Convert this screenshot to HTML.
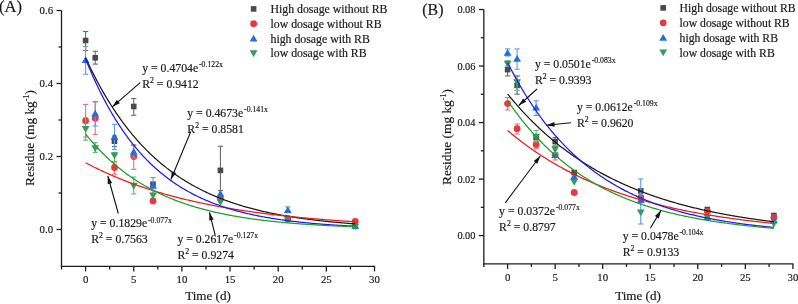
<!DOCTYPE html>
<html><head><meta charset="utf-8"><style>
html,body{margin:0;padding:0;background:#fff;width:798px;height:304px;overflow:hidden}
svg{display:block;will-change:transform}
text{font-family:"Liberation Serif", serif;fill:#1a1a1a;stroke:#1a1a1a;stroke-width:0.18px}
</style></head><body>
<svg width="798" height="304" viewBox="0 0 798 304">
<rect width="798" height="304" fill="#fff"/>
<line x1="61.52" y1="10.50" x2="61.52" y2="267.05" stroke="#1e1e1e" stroke-width="1.3"/>
<line x1="60.87" y1="266.40" x2="375.15" y2="266.40" stroke="#1e1e1e" stroke-width="1.3"/>
<line x1="56.52" y1="229.50" x2="61.52" y2="229.50" stroke="#1e1e1e" stroke-width="1.3"/>
<text x="53.12" y="233.20" font-size="10.8" text-anchor="end" >0.0</text>
<line x1="56.52" y1="156.50" x2="61.52" y2="156.50" stroke="#1e1e1e" stroke-width="1.3"/>
<text x="53.12" y="160.20" font-size="10.8" text-anchor="end" >0.2</text>
<line x1="56.52" y1="83.50" x2="61.52" y2="83.50" stroke="#1e1e1e" stroke-width="1.3"/>
<text x="53.12" y="87.20" font-size="10.8" text-anchor="end" >0.4</text>
<line x1="56.52" y1="10.50" x2="61.52" y2="10.50" stroke="#1e1e1e" stroke-width="1.3"/>
<text x="53.12" y="14.20" font-size="10.8" text-anchor="end" >0.6</text>
<line x1="58.52" y1="193.00" x2="61.52" y2="193.00" stroke="#1e1e1e" stroke-width="1.3"/>
<line x1="58.52" y1="120.00" x2="61.52" y2="120.00" stroke="#1e1e1e" stroke-width="1.3"/>
<line x1="58.52" y1="47.00" x2="61.52" y2="47.00" stroke="#1e1e1e" stroke-width="1.3"/>
<line x1="85.60" y1="266.40" x2="85.60" y2="271.40" stroke="#1e1e1e" stroke-width="1.3"/>
<text x="85.60" y="282.90" font-size="10.8" text-anchor="middle" >0</text>
<line x1="133.75" y1="266.40" x2="133.75" y2="271.40" stroke="#1e1e1e" stroke-width="1.3"/>
<text x="133.75" y="282.90" font-size="10.8" text-anchor="middle" >5</text>
<line x1="181.90" y1="266.40" x2="181.90" y2="271.40" stroke="#1e1e1e" stroke-width="1.3"/>
<text x="181.90" y="282.90" font-size="10.8" text-anchor="middle" >10</text>
<line x1="230.05" y1="266.40" x2="230.05" y2="271.40" stroke="#1e1e1e" stroke-width="1.3"/>
<text x="230.05" y="282.90" font-size="10.8" text-anchor="middle" >15</text>
<line x1="278.20" y1="266.40" x2="278.20" y2="271.40" stroke="#1e1e1e" stroke-width="1.3"/>
<text x="278.20" y="282.90" font-size="10.8" text-anchor="middle" >20</text>
<line x1="326.35" y1="266.40" x2="326.35" y2="271.40" stroke="#1e1e1e" stroke-width="1.3"/>
<text x="326.35" y="282.90" font-size="10.8" text-anchor="middle" >25</text>
<line x1="374.50" y1="266.40" x2="374.50" y2="271.40" stroke="#1e1e1e" stroke-width="1.3"/>
<text x="374.50" y="282.90" font-size="10.8" text-anchor="middle" >30</text>
<line x1="61.52" y1="266.40" x2="61.52" y2="269.40" stroke="#1e1e1e" stroke-width="1.3"/>
<line x1="109.67" y1="266.40" x2="109.67" y2="269.40" stroke="#1e1e1e" stroke-width="1.3"/>
<line x1="157.82" y1="266.40" x2="157.82" y2="269.40" stroke="#1e1e1e" stroke-width="1.3"/>
<line x1="205.98" y1="266.40" x2="205.98" y2="269.40" stroke="#1e1e1e" stroke-width="1.3"/>
<line x1="254.12" y1="266.40" x2="254.12" y2="269.40" stroke="#1e1e1e" stroke-width="1.3"/>
<line x1="302.27" y1="266.40" x2="302.27" y2="269.40" stroke="#1e1e1e" stroke-width="1.3"/>
<line x1="350.43" y1="266.40" x2="350.43" y2="269.40" stroke="#1e1e1e" stroke-width="1.3"/>
<line x1="85.60" y1="31.50" x2="85.60" y2="50.50" stroke="#6a6a6a" stroke-width="1.1"/>
<line x1="83.00" y1="31.50" x2="88.20" y2="31.50" stroke="#6a6a6a" stroke-width="1.1"/>
<line x1="83.00" y1="50.50" x2="88.20" y2="50.50" stroke="#6a6a6a" stroke-width="1.1"/>
<rect x="82.80" y="37.70" width="5.6" height="5.6" fill="#4a4a4a"/>
<line x1="95.23" y1="51.30" x2="95.23" y2="64.10" stroke="#6a6a6a" stroke-width="1.1"/>
<line x1="92.63" y1="51.30" x2="97.83" y2="51.30" stroke="#6a6a6a" stroke-width="1.1"/>
<line x1="92.63" y1="64.10" x2="97.83" y2="64.10" stroke="#6a6a6a" stroke-width="1.1"/>
<rect x="92.43" y="55.00" width="5.6" height="5.6" fill="#4a4a4a"/>
<line x1="114.49" y1="136.00" x2="114.49" y2="146.60" stroke="#6a6a6a" stroke-width="1.1"/>
<line x1="111.89" y1="136.00" x2="117.09" y2="136.00" stroke="#6a6a6a" stroke-width="1.1"/>
<line x1="111.89" y1="146.60" x2="117.09" y2="146.60" stroke="#6a6a6a" stroke-width="1.1"/>
<rect x="111.69" y="138.40" width="5.6" height="5.6" fill="#4a4a4a"/>
<line x1="133.75" y1="98.50" x2="133.75" y2="115.30" stroke="#6a6a6a" stroke-width="1.1"/>
<line x1="131.15" y1="98.50" x2="136.35" y2="98.50" stroke="#6a6a6a" stroke-width="1.1"/>
<line x1="131.15" y1="115.30" x2="136.35" y2="115.30" stroke="#6a6a6a" stroke-width="1.1"/>
<rect x="130.95" y="103.70" width="5.6" height="5.6" fill="#4a4a4a"/>
<rect x="150.21" y="181.40" width="5.6" height="5.6" fill="#4a4a4a"/>
<line x1="220.42" y1="146.20" x2="220.42" y2="190.60" stroke="#6a6a6a" stroke-width="1.1"/>
<line x1="217.82" y1="146.20" x2="223.02" y2="146.20" stroke="#6a6a6a" stroke-width="1.1"/>
<line x1="217.82" y1="190.60" x2="223.02" y2="190.60" stroke="#6a6a6a" stroke-width="1.1"/>
<rect x="217.62" y="167.60" width="5.6" height="5.6" fill="#4a4a4a"/>
<rect x="285.03" y="215.70" width="5.6" height="5.6" fill="#4a4a4a"/>
<rect x="352.44" y="220.20" width="5.6" height="5.6" fill="#4a4a4a"/>
<line x1="85.60" y1="104.40" x2="85.60" y2="137.00" stroke="#ee7070" stroke-width="1.1"/>
<line x1="83.00" y1="104.40" x2="88.20" y2="104.40" stroke="#ee7070" stroke-width="1.1"/>
<line x1="83.00" y1="137.00" x2="88.20" y2="137.00" stroke="#ee7070" stroke-width="1.1"/>
<circle cx="85.60" cy="120.70" r="3.4" fill="#e8383c"/>
<line x1="95.23" y1="102.00" x2="95.23" y2="134.40" stroke="#ee7070" stroke-width="1.1"/>
<line x1="92.63" y1="102.00" x2="97.83" y2="102.00" stroke="#ee7070" stroke-width="1.1"/>
<line x1="92.63" y1="134.40" x2="97.83" y2="134.40" stroke="#ee7070" stroke-width="1.1"/>
<circle cx="95.23" cy="118.20" r="3.4" fill="#e8383c"/>
<line x1="114.49" y1="162.00" x2="114.49" y2="174.20" stroke="#ee7070" stroke-width="1.1"/>
<line x1="111.89" y1="162.00" x2="117.09" y2="162.00" stroke="#ee7070" stroke-width="1.1"/>
<line x1="111.89" y1="174.20" x2="117.09" y2="174.20" stroke="#ee7070" stroke-width="1.1"/>
<circle cx="114.49" cy="167.50" r="3.4" fill="#e8383c"/>
<line x1="133.75" y1="144.70" x2="133.75" y2="169.30" stroke="#ee7070" stroke-width="1.1"/>
<line x1="131.15" y1="144.70" x2="136.35" y2="144.70" stroke="#ee7070" stroke-width="1.1"/>
<line x1="131.15" y1="169.30" x2="136.35" y2="169.30" stroke="#ee7070" stroke-width="1.1"/>
<circle cx="133.75" cy="156.50" r="3.4" fill="#e8383c"/>
<circle cx="153.01" cy="200.90" r="3.4" fill="#e8383c"/>
<circle cx="220.42" cy="198.50" r="3.4" fill="#e8383c"/>
<circle cx="287.83" cy="219.00" r="3.4" fill="#e8383c"/>
<circle cx="355.24" cy="221.30" r="3.4" fill="#e8383c"/>
<line x1="85.60" y1="46.40" x2="85.60" y2="74.30" stroke="#5a9aee" stroke-width="1.1"/>
<line x1="83.00" y1="46.40" x2="88.20" y2="46.40" stroke="#5a9aee" stroke-width="1.1"/>
<line x1="83.00" y1="74.30" x2="88.20" y2="74.30" stroke="#5a9aee" stroke-width="1.1"/>
<polygon points="85.60,56.26 89.50,63.06 81.70,63.06" fill="#1f6fe0"/>
<line x1="95.23" y1="101.40" x2="95.23" y2="126.00" stroke="#5a9aee" stroke-width="1.1"/>
<line x1="92.63" y1="101.40" x2="97.83" y2="101.40" stroke="#5a9aee" stroke-width="1.1"/>
<line x1="92.63" y1="126.00" x2="97.83" y2="126.00" stroke="#5a9aee" stroke-width="1.1"/>
<polygon points="95.23,109.66 99.13,116.46 91.33,116.46" fill="#1f6fe0"/>
<line x1="114.49" y1="124.30" x2="114.49" y2="149.60" stroke="#5a9aee" stroke-width="1.1"/>
<line x1="111.89" y1="124.30" x2="117.09" y2="124.30" stroke="#5a9aee" stroke-width="1.1"/>
<line x1="111.89" y1="149.60" x2="117.09" y2="149.60" stroke="#5a9aee" stroke-width="1.1"/>
<polygon points="114.49,133.06 118.39,139.86 110.59,139.86" fill="#1f6fe0"/>
<line x1="133.75" y1="145.60" x2="133.75" y2="158.00" stroke="#5a9aee" stroke-width="1.1"/>
<line x1="131.15" y1="145.60" x2="136.35" y2="145.60" stroke="#5a9aee" stroke-width="1.1"/>
<line x1="131.15" y1="158.00" x2="136.35" y2="158.00" stroke="#5a9aee" stroke-width="1.1"/>
<polygon points="133.75,148.06 137.65,154.86 129.85,154.86" fill="#1f6fe0"/>
<line x1="153.01" y1="177.60" x2="153.01" y2="193.40" stroke="#5a9aee" stroke-width="1.1"/>
<line x1="150.41" y1="177.60" x2="155.61" y2="177.60" stroke="#5a9aee" stroke-width="1.1"/>
<line x1="150.41" y1="193.40" x2="155.61" y2="193.40" stroke="#5a9aee" stroke-width="1.1"/>
<polygon points="153.01,182.06 156.91,188.86 149.11,188.86" fill="#1f6fe0"/>
<polygon points="220.42,189.86 224.32,196.66 216.52,196.66" fill="#1f6fe0"/>
<line x1="287.83" y1="206.90" x2="287.83" y2="212.00" stroke="#5a9aee" stroke-width="1.1"/>
<line x1="285.23" y1="206.90" x2="290.43" y2="206.90" stroke="#5a9aee" stroke-width="1.1"/>
<line x1="285.23" y1="212.00" x2="290.43" y2="212.00" stroke="#5a9aee" stroke-width="1.1"/>
<polygon points="287.83,206.26 291.73,213.06 283.93,213.06" fill="#1f6fe0"/>
<polygon points="355.24,222.26 359.14,229.06 351.34,229.06" fill="#1f6fe0"/>
<line x1="85.60" y1="117.80" x2="85.60" y2="140.20" stroke="#5fb880" stroke-width="1.1"/>
<line x1="83.00" y1="117.80" x2="88.20" y2="117.80" stroke="#5fb880" stroke-width="1.1"/>
<line x1="83.00" y1="140.20" x2="88.20" y2="140.20" stroke="#5fb880" stroke-width="1.1"/>
<polygon points="85.60,132.74 89.50,125.94 81.70,125.94" fill="#2e9e5a"/>
<line x1="95.23" y1="142.70" x2="95.23" y2="152.60" stroke="#5fb880" stroke-width="1.1"/>
<line x1="92.63" y1="142.70" x2="97.83" y2="142.70" stroke="#5fb880" stroke-width="1.1"/>
<line x1="92.63" y1="152.60" x2="97.83" y2="152.60" stroke="#5fb880" stroke-width="1.1"/>
<polygon points="95.23,152.14 99.13,145.34 91.33,145.34" fill="#2e9e5a"/>
<line x1="114.49" y1="152.50" x2="114.49" y2="161.40" stroke="#5fb880" stroke-width="1.1"/>
<line x1="111.89" y1="152.50" x2="117.09" y2="152.50" stroke="#5fb880" stroke-width="1.1"/>
<line x1="111.89" y1="161.40" x2="117.09" y2="161.40" stroke="#5fb880" stroke-width="1.1"/>
<polygon points="114.49,159.24 118.39,152.44 110.59,152.44" fill="#2e9e5a"/>
<line x1="133.75" y1="177.00" x2="133.75" y2="193.90" stroke="#5fb880" stroke-width="1.1"/>
<line x1="131.15" y1="177.00" x2="136.35" y2="177.00" stroke="#5fb880" stroke-width="1.1"/>
<line x1="131.15" y1="193.90" x2="136.35" y2="193.90" stroke="#5fb880" stroke-width="1.1"/>
<polygon points="133.75,189.64 137.65,182.84 129.85,182.84" fill="#2e9e5a"/>
<polygon points="153.01,199.34 156.91,192.54 149.11,192.54" fill="#2e9e5a"/>
<polygon points="220.42,206.04 224.32,199.24 216.52,199.24" fill="#2e9e5a"/>
<polygon points="287.83,222.74 291.73,215.94 283.93,215.94" fill="#2e9e5a"/>
<polygon points="355.24,230.54 359.14,223.74 351.34,223.74" fill="#2e9e5a"/>
<polyline points="85.60,57.80 86.56,59.89 87.53,61.94 88.49,63.97 89.45,65.98 90.41,67.96 91.38,69.92 92.34,71.86 93.30,73.77 94.27,75.66 95.23,77.52 96.19,79.37 97.16,81.19 98.12,82.99 99.08,84.76 100.04,86.52 101.01,88.25 101.97,89.96 102.93,91.66 103.90,93.33 104.86,94.98 105.82,96.61 106.79,98.22 107.75,99.81 108.71,101.39 109.67,102.94 110.64,104.47 111.60,105.99 112.56,107.49 113.53,108.97 114.49,110.43 115.45,111.87 116.42,113.30 117.38,114.71 118.34,116.10 119.31,117.47 120.27,118.83 121.23,120.17 122.19,121.50 123.16,122.81 124.12,124.10 125.08,125.38 126.05,126.64 127.01,127.89 127.97,129.12 128.94,130.34 129.90,131.54 130.86,132.73 131.82,133.90 132.79,135.06 133.75,136.21 134.71,137.34 135.68,138.46 136.64,139.56 137.60,140.65 138.56,141.73 139.53,142.79 140.49,143.85 141.45,144.88 142.42,145.91 143.38,146.92 144.34,147.92 145.31,148.91 146.27,149.89 147.23,150.86 148.19,151.81 149.16,152.75 150.12,153.68 151.08,154.60 152.05,155.51 153.01,156.41 153.97,157.29 154.94,158.17 155.90,159.03 156.86,159.89 157.82,160.73 158.79,161.57 159.75,162.39 160.71,163.20 161.68,164.01 162.64,164.80 163.60,165.59 164.57,166.36 165.53,167.13 166.49,167.88 167.45,168.63 168.42,169.37 169.38,170.10 170.34,170.82 171.31,171.53 172.27,172.23 173.23,172.93 174.20,173.61 175.16,174.29 176.12,174.96 177.09,175.62 178.05,176.28 179.01,176.92 179.97,177.56 180.94,178.19 181.90,178.81 182.86,179.42 183.83,180.03 184.79,180.63 185.75,181.22 186.72,181.81 187.68,182.39 188.64,182.96 189.60,183.52 190.57,184.08 191.53,184.63 192.49,185.18 193.46,185.71 194.42,186.24 195.38,186.77 196.34,187.29 197.31,187.80 198.27,188.30 199.23,188.80 200.20,189.30 201.16,189.79 202.12,190.27 203.09,190.74 204.05,191.21 205.01,191.68 205.98,192.14 206.94,192.59 207.90,193.04 208.86,193.48 209.83,193.91 210.79,194.35 211.75,194.77 212.72,195.19 213.68,195.61 214.64,196.02 215.61,196.43 216.57,196.83 217.53,197.22 218.49,197.62 219.46,198.00 220.42,198.38 221.38,198.76 222.35,199.13 223.31,199.50 224.27,199.87 225.24,200.23 226.20,200.58 227.16,200.93 228.12,201.28 229.09,201.62 230.05,201.96 231.01,202.29 231.98,202.62 232.94,202.95 233.90,203.27 234.87,203.59 235.83,203.90 236.79,204.21 237.75,204.52 238.72,204.82 239.68,205.12 240.64,205.42 241.61,205.71 242.57,206.00 243.53,206.28 244.50,206.56 245.46,206.84 246.42,207.12 247.38,207.39 248.35,207.66 249.31,207.92 250.27,208.18 251.24,208.44 252.20,208.70 253.16,208.95 254.12,209.20 255.09,209.44 256.05,209.69 257.01,209.93 257.98,210.16 258.94,210.40 259.90,210.63 260.87,210.86 261.83,211.09 262.79,211.31 263.75,211.53 264.72,211.75 265.68,211.96 266.64,212.18 267.61,212.39 268.57,212.59 269.53,212.80 270.50,213.00 271.46,213.20 272.42,213.40 273.38,213.59 274.35,213.79 275.31,213.98 276.27,214.17 277.24,214.35 278.20,214.53 279.16,214.72 280.13,214.90 281.09,215.07 282.05,215.25 283.01,215.42 283.98,215.59 284.94,215.76 285.90,215.93 286.87,216.09 287.83,216.25 288.79,216.41 289.76,216.57 290.72,216.73 291.68,216.88 292.64,217.04 293.61,217.19 294.57,217.34 295.53,217.49 296.50,217.63 297.46,217.77 298.42,217.92 299.39,218.06 300.35,218.20 301.31,218.33 302.27,218.47 303.24,218.60 304.20,218.73 305.16,218.87 306.13,218.99 307.09,219.12 308.05,219.25 309.02,219.37 309.98,219.49 310.94,219.62 311.90,219.74 312.87,219.85 313.83,219.97 314.79,220.09 315.76,220.20 316.72,220.31 317.68,220.42 318.65,220.54 319.61,220.64 320.57,220.75 321.54,220.86 322.50,220.96 323.46,221.07 324.42,221.17 325.39,221.27 326.35,221.37 327.31,221.47 328.28,221.56 329.24,221.66 330.20,221.76 331.17,221.85 332.13,221.94 333.09,222.03 334.05,222.12 335.02,222.21 335.98,222.30 336.94,222.39 337.91,222.48 338.87,222.56 339.83,222.65 340.80,222.73 341.76,222.81 342.72,222.89 343.68,222.97 344.65,223.05 345.61,223.13 346.57,223.21 347.54,223.28 348.50,223.36 349.46,223.43 350.43,223.51 351.39,223.58 352.35,223.65 353.31,223.72 354.28,223.79 355.24,223.86" fill="none" stroke="#1a1a1a" stroke-width="1.25"/>
<polyline points="85.60,162.74 86.56,163.25 87.53,163.76 88.49,164.27 89.45,164.77 90.41,165.26 91.38,165.76 92.34,166.24 93.30,166.73 94.27,167.21 95.23,167.69 96.19,168.16 97.16,168.63 98.12,169.10 99.08,169.56 100.04,170.02 101.01,170.48 101.97,170.93 102.93,171.38 103.90,171.83 104.86,172.27 105.82,172.71 106.79,173.14 107.75,173.58 108.71,174.01 109.67,174.43 110.64,174.85 111.60,175.27 112.56,175.69 113.53,176.10 114.49,176.51 115.45,176.92 116.42,177.32 117.38,177.72 118.34,178.12 119.31,178.51 120.27,178.90 121.23,179.29 122.19,179.68 123.16,180.06 124.12,180.44 125.08,180.81 126.05,181.19 127.01,181.56 127.97,181.93 128.94,182.29 129.90,182.65 130.86,183.01 131.82,183.37 132.79,183.72 133.75,184.07 134.71,184.42 135.68,184.77 136.64,185.11 137.60,185.45 138.56,185.79 139.53,186.13 140.49,186.46 141.45,186.79 142.42,187.12 143.38,187.44 144.34,187.76 145.31,188.08 146.27,188.40 147.23,188.72 148.19,189.03 149.16,189.34 150.12,189.65 151.08,189.95 152.05,190.26 153.01,190.56 153.97,190.86 154.94,191.15 155.90,191.45 156.86,191.74 157.82,192.03 158.79,192.32 159.75,192.60 160.71,192.88 161.68,193.16 162.64,193.44 163.60,193.72 164.57,193.99 165.53,194.27 166.49,194.54 167.45,194.81 168.42,195.07 169.38,195.34 170.34,195.60 171.31,195.86 172.27,196.12 173.23,196.37 174.20,196.63 175.16,196.88 176.12,197.13 177.09,197.38 178.05,197.62 179.01,197.87 179.97,198.11 180.94,198.35 181.90,198.59 182.86,198.83 183.83,199.06 184.79,199.30 185.75,199.53 186.72,199.76 187.68,199.99 188.64,200.21 189.60,200.44 190.57,200.66 191.53,200.88 192.49,201.10 193.46,201.32 194.42,201.53 195.38,201.75 196.34,201.96 197.31,202.17 198.27,202.38 199.23,202.59 200.20,202.80 201.16,203.00 202.12,203.20 203.09,203.41 204.05,203.61 205.01,203.81 205.98,204.00 206.94,204.20 207.90,204.39 208.86,204.58 209.83,204.78 210.79,204.97 211.75,205.15 212.72,205.34 213.68,205.53 214.64,205.71 215.61,205.89 216.57,206.07 217.53,206.25 218.49,206.43 219.46,206.61 220.42,206.78 221.38,206.96 222.35,207.13 223.31,207.30 224.27,207.47 225.24,207.64 226.20,207.81 227.16,207.98 228.12,208.14 229.09,208.30 230.05,208.47 231.01,208.63 231.98,208.79 232.94,208.95 233.90,209.11 234.87,209.26 235.83,209.42 236.79,209.57 237.75,209.72 238.72,209.88 239.68,210.03 240.64,210.18 241.61,210.32 242.57,210.47 243.53,210.62 244.50,210.76 245.46,210.91 246.42,211.05 247.38,211.19 248.35,211.33 249.31,211.47 250.27,211.61 251.24,211.74 252.20,211.88 253.16,212.02 254.12,212.15 255.09,212.28 256.05,212.42 257.01,212.55 257.98,212.68 258.94,212.81 259.90,212.93 260.87,213.06 261.83,213.19 262.79,213.31 263.75,213.44 264.72,213.56 265.68,213.68 266.64,213.80 267.61,213.92 268.57,214.04 269.53,214.16 270.50,214.28 271.46,214.40 272.42,214.51 273.38,214.63 274.35,214.74 275.31,214.85 276.27,214.97 277.24,215.08 278.20,215.19 279.16,215.30 280.13,215.41 281.09,215.52 282.05,215.62 283.01,215.73 283.98,215.83 284.94,215.94 285.90,216.04 286.87,216.15 287.83,216.25 288.79,216.35 289.76,216.45 290.72,216.55 291.68,216.65 292.64,216.75 293.61,216.85 294.57,216.94 295.53,217.04 296.50,217.14 297.46,217.23 298.42,217.33 299.39,217.42 300.35,217.51 301.31,217.60 302.27,217.69 303.24,217.78 304.20,217.87 305.16,217.96 306.13,218.05 307.09,218.14 308.05,218.23 309.02,218.31 309.98,218.40 310.94,218.48 311.90,218.57 312.87,218.65 313.83,218.74 314.79,218.82 315.76,218.90 316.72,218.98 317.68,219.06 318.65,219.14 319.61,219.22 320.57,219.30 321.54,219.38 322.50,219.46 323.46,219.53 324.42,219.61 325.39,219.69 326.35,219.76 327.31,219.84 328.28,219.91 329.24,219.98 330.20,220.06 331.17,220.13 332.13,220.20 333.09,220.27 334.05,220.34 335.02,220.41 335.98,220.48 336.94,220.55 337.91,220.62 338.87,220.69 339.83,220.76 340.80,220.82 341.76,220.89 342.72,220.96 343.68,221.02 344.65,221.09 345.61,221.15 346.57,221.22 347.54,221.28 348.50,221.34 349.46,221.40 350.43,221.47 351.39,221.53 352.35,221.59 353.31,221.65 354.28,221.71 355.24,221.77" fill="none" stroke="#ee1c1c" stroke-width="1.25"/>
<polyline points="85.60,58.94 86.56,61.32 87.53,63.68 88.49,66.00 89.45,68.29 90.41,70.55 91.38,72.77 92.34,74.97 93.30,77.13 94.27,79.26 95.23,81.37 96.19,83.44 97.16,85.49 98.12,87.50 99.08,89.49 100.04,91.45 101.01,93.38 101.97,95.29 102.93,97.17 103.90,99.02 104.86,100.85 105.82,102.65 106.79,104.43 107.75,106.18 108.71,107.90 109.67,109.61 110.64,111.28 111.60,112.94 112.56,114.57 113.53,116.18 114.49,117.77 115.45,119.33 116.42,120.87 117.38,122.39 118.34,123.89 119.31,125.37 120.27,126.83 121.23,128.27 122.19,129.69 123.16,131.08 124.12,132.46 125.08,133.82 126.05,135.16 127.01,136.48 127.97,137.78 128.94,139.07 129.90,140.33 130.86,141.58 131.82,142.81 132.79,144.03 133.75,145.22 134.71,146.40 135.68,147.57 136.64,148.71 137.60,149.84 138.56,150.96 139.53,152.06 140.49,153.14 141.45,154.21 142.42,155.27 143.38,156.31 144.34,157.33 145.31,158.34 146.27,159.34 147.23,160.32 148.19,161.29 149.16,162.24 150.12,163.19 151.08,164.11 152.05,165.03 153.01,165.93 153.97,166.82 154.94,167.70 155.90,168.56 156.86,169.42 157.82,170.26 158.79,171.09 159.75,171.91 160.71,172.71 161.68,173.51 162.64,174.29 163.60,175.06 164.57,175.83 165.53,176.58 166.49,177.32 167.45,178.05 168.42,178.77 169.38,179.48 170.34,180.18 171.31,180.87 172.27,181.55 173.23,182.22 174.20,182.89 175.16,183.54 176.12,184.18 177.09,184.82 178.05,185.44 179.01,186.06 179.97,186.67 180.94,187.27 181.90,187.86 182.86,188.44 183.83,189.02 184.79,189.58 185.75,190.14 186.72,190.69 187.68,191.24 188.64,191.77 189.60,192.30 190.57,192.82 191.53,193.33 192.49,193.84 193.46,194.34 194.42,194.83 195.38,195.32 196.34,195.80 197.31,196.27 198.27,196.73 199.23,197.19 200.20,197.64 201.16,198.09 202.12,198.53 203.09,198.96 204.05,199.39 205.01,199.81 205.98,200.23 206.94,200.64 207.90,201.04 208.86,201.44 209.83,201.83 210.79,202.22 211.75,202.60 212.72,202.98 213.68,203.35 214.64,203.72 215.61,204.08 216.57,204.43 217.53,204.78 218.49,205.13 219.46,205.47 220.42,205.81 221.38,206.14 222.35,206.47 223.31,206.79 224.27,207.11 225.24,207.42 226.20,207.73 227.16,208.04 228.12,208.34 229.09,208.63 230.05,208.92 231.01,209.21 231.98,209.50 232.94,209.78 233.90,210.05 234.87,210.32 235.83,210.59 236.79,210.86 237.75,211.12 238.72,211.38 239.68,211.63 240.64,211.88 241.61,212.13 242.57,212.37 243.53,212.61 244.50,212.85 245.46,213.08 246.42,213.31 247.38,213.54 248.35,213.76 249.31,213.98 250.27,214.20 251.24,214.41 252.20,214.62 253.16,214.83 254.12,215.04 255.09,215.24 256.05,215.44 257.01,215.64 257.98,215.83 258.94,216.02 259.90,216.21 260.87,216.40 261.83,216.58 262.79,216.76 263.75,216.94 264.72,217.11 265.68,217.29 266.64,217.46 267.61,217.63 268.57,217.79 269.53,217.96 270.50,218.12 271.46,218.28 272.42,218.44 273.38,218.59 274.35,218.74 275.31,218.89 276.27,219.04 277.24,219.19 278.20,219.33 279.16,219.48 280.13,219.62 281.09,219.75 282.05,219.89 283.01,220.03 283.98,220.16 284.94,220.29 285.90,220.42 286.87,220.54 287.83,220.67 288.79,220.79 289.76,220.92 290.72,221.04 291.68,221.15 292.64,221.27 293.61,221.39 294.57,221.50 295.53,221.61 296.50,221.72 297.46,221.83 298.42,221.94 299.39,222.04 300.35,222.15 301.31,222.25 302.27,222.35 303.24,222.45 304.20,222.55 305.16,222.65 306.13,222.75 307.09,222.84 308.05,222.93 309.02,223.03 309.98,223.12 310.94,223.21 311.90,223.29 312.87,223.38 313.83,223.47 314.79,223.55 315.76,223.63 316.72,223.72 317.68,223.80 318.65,223.88 319.61,223.96 320.57,224.03 321.54,224.11 322.50,224.19 323.46,224.26 324.42,224.33 325.39,224.41 326.35,224.48 327.31,224.55 328.28,224.62 329.24,224.68 330.20,224.75 331.17,224.82 332.13,224.88 333.09,224.95 334.05,225.01 335.02,225.08 335.98,225.14 336.94,225.20 337.91,225.26 338.87,225.32 339.83,225.38 340.80,225.43 341.76,225.49 342.72,225.55 343.68,225.60 344.65,225.66 345.61,225.71 346.57,225.76 347.54,225.82 348.50,225.87 349.46,225.92 350.43,225.97 351.39,226.02 352.35,226.07 353.31,226.12 354.28,226.16 355.24,226.21" fill="none" stroke="#1c1cee" stroke-width="1.25"/>
<polyline points="85.60,133.98 86.56,135.18 87.53,136.38 88.49,137.55 89.45,138.71 90.41,139.86 91.38,140.99 92.34,142.10 93.30,143.21 94.27,144.30 95.23,145.37 96.19,146.43 97.16,147.48 98.12,148.52 99.08,149.54 100.04,150.55 101.01,151.54 101.97,152.53 102.93,153.50 103.90,154.46 104.86,155.41 105.82,156.34 106.79,157.26 107.75,158.18 108.71,159.08 109.67,159.96 110.64,160.84 111.60,161.71 112.56,162.56 113.53,163.41 114.49,164.24 115.45,165.07 116.42,165.88 117.38,166.68 118.34,167.47 119.31,168.26 120.27,169.03 121.23,169.79 122.19,170.55 123.16,171.29 124.12,172.03 125.08,172.75 126.05,173.47 127.01,174.17 127.97,174.87 128.94,175.56 129.90,176.24 130.86,176.91 131.82,177.58 132.79,178.23 133.75,178.88 134.71,179.52 135.68,180.15 136.64,180.77 137.60,181.39 138.56,181.99 139.53,182.59 140.49,183.19 141.45,183.77 142.42,184.35 143.38,184.92 144.34,185.48 145.31,186.04 146.27,186.58 147.23,187.13 148.19,187.66 149.16,188.19 150.12,188.71 151.08,189.22 152.05,189.73 153.01,190.23 153.97,190.73 154.94,191.22 155.90,191.70 156.86,192.18 157.82,192.65 158.79,193.12 159.75,193.57 160.71,194.03 161.68,194.48 162.64,194.92 163.60,195.35 164.57,195.79 165.53,196.21 166.49,196.63 167.45,197.05 168.42,197.46 169.38,197.86 170.34,198.26 171.31,198.65 172.27,199.04 173.23,199.43 174.20,199.81 175.16,200.18 176.12,200.55 177.09,200.92 178.05,201.28 179.01,201.63 179.97,201.98 180.94,202.33 181.90,202.67 182.86,203.01 183.83,203.35 184.79,203.68 185.75,204.00 186.72,204.33 187.68,204.64 188.64,204.96 189.60,205.27 190.57,205.57 191.53,205.87 192.49,206.17 193.46,206.47 194.42,206.76 195.38,207.04 196.34,207.33 197.31,207.61 198.27,207.88 199.23,208.16 200.20,208.43 201.16,208.69 202.12,208.95 203.09,209.21 204.05,209.47 205.01,209.72 205.98,209.97 206.94,210.22 207.90,210.46 208.86,210.70 209.83,210.94 210.79,211.17 211.75,211.40 212.72,211.63 213.68,211.86 214.64,212.08 215.61,212.30 216.57,212.52 217.53,212.73 218.49,212.94 219.46,213.15 220.42,213.36 221.38,213.56 222.35,213.76 223.31,213.96 224.27,214.16 225.24,214.35 226.20,214.54 227.16,214.73 228.12,214.92 229.09,215.10 230.05,215.28 231.01,215.46 231.98,215.64 232.94,215.82 233.90,215.99 234.87,216.16 235.83,216.33 236.79,216.49 237.75,216.66 238.72,216.82 239.68,216.98 240.64,217.14 241.61,217.29 242.57,217.45 243.53,217.60 244.50,217.75 245.46,217.90 246.42,218.04 247.38,218.19 248.35,218.33 249.31,218.47 250.27,218.61 251.24,218.75 252.20,218.89 253.16,219.02 254.12,219.15 255.09,219.28 256.05,219.41 257.01,219.54 257.98,219.66 258.94,219.79 259.90,219.91 260.87,220.03 261.83,220.15 262.79,220.27 263.75,220.39 264.72,220.50 265.68,220.61 266.64,220.73 267.61,220.84 268.57,220.95 269.53,221.05 270.50,221.16 271.46,221.27 272.42,221.37 273.38,221.47 274.35,221.57 275.31,221.67 276.27,221.77 277.24,221.87 278.20,221.97 279.16,222.06 280.13,222.16 281.09,222.25 282.05,222.34 283.01,222.43 283.98,222.52 284.94,222.61 285.90,222.69 286.87,222.78 287.83,222.87 288.79,222.95 289.76,223.03 290.72,223.11 291.68,223.19 292.64,223.27 293.61,223.35 294.57,223.43 295.53,223.51 296.50,223.58 297.46,223.66 298.42,223.73 299.39,223.80 300.35,223.87 301.31,223.95 302.27,224.02 303.24,224.09 304.20,224.15 305.16,224.22 306.13,224.29 307.09,224.35 308.05,224.42 309.02,224.48 309.98,224.55 310.94,224.61 311.90,224.67 312.87,224.73 313.83,224.79 314.79,224.85 315.76,224.91 316.72,224.97 317.68,225.02 318.65,225.08 319.61,225.14 320.57,225.19 321.54,225.25 322.50,225.30 323.46,225.35 324.42,225.41 325.39,225.46 326.35,225.51 327.31,225.56 328.28,225.61 329.24,225.66 330.20,225.71 331.17,225.75 332.13,225.80 333.09,225.85 334.05,225.89 335.02,225.94 335.98,225.98 336.94,226.03 337.91,226.07 338.87,226.12 339.83,226.16 340.80,226.20 341.76,226.24 342.72,226.28 343.68,226.32 344.65,226.36 345.61,226.40 346.57,226.44 347.54,226.48 348.50,226.52 349.46,226.56 350.43,226.59 351.39,226.63 352.35,226.67 353.31,226.70 354.28,226.74 355.24,226.77" fill="none" stroke="#1e9e2a" stroke-width="1.25"/>
<text x="142.20" y="71.70" font-size="11.75">y = 0.4704e<tspan font-size="7.76" dx="0.9" dy="-4.8">-0.122x</tspan></text>
<text x="142.20" y="87.70" font-size="11.75">R<tspan font-size="7.76" dy="-5">2</tspan><tspan dy="5"> = 0.9412</tspan></text>
<text x="187.30" y="116.60" font-size="11.75">y = 0.4673e<tspan font-size="7.76" dx="0.9" dy="-4.8">-0.141x</tspan></text>
<text x="187.30" y="132.60" font-size="11.75">R<tspan font-size="7.76" dy="-5">2</tspan><tspan dy="5"> = 0.8581</tspan></text>
<text x="91.20" y="227.30" font-size="11.75">y = 0.1829e<tspan font-size="7.76" dx="0.9" dy="-4.8">-0.077x</tspan></text>
<text x="91.20" y="243.30" font-size="11.75">R<tspan font-size="7.76" dy="-5">2</tspan><tspan dy="5"> = 0.7563</tspan></text>
<text x="177.40" y="243.10" font-size="11.75">y = 0.2617e<tspan font-size="7.76" dx="0.9" dy="-4.8">-0.127x</tspan></text>
<text x="177.40" y="259.10" font-size="11.75">R<tspan font-size="7.76" dy="-5">2</tspan><tspan dy="5"> = 0.9274</tspan></text>
<line x1="140.20" y1="82.70" x2="112.30" y2="106.80" stroke="#111" stroke-width="1.1"/>
<polygon points="112.30,106.80 116.85,99.83 119.86,103.31" fill="#111"/>
<line x1="190.80" y1="131.50" x2="170.90" y2="179.50" stroke="#111" stroke-width="1.1"/>
<polygon points="170.90,179.50 171.84,171.23 176.09,172.99" fill="#111"/>
<line x1="118.30" y1="213.50" x2="107.80" y2="176.00" stroke="#111" stroke-width="1.1"/>
<polygon points="107.80,176.00 112.17,183.08 107.74,184.32" fill="#111"/>
<line x1="215.20" y1="235.30" x2="209.50" y2="212.30" stroke="#111" stroke-width="1.1"/>
<polygon points="209.50,212.30 213.66,219.51 209.19,220.62" fill="#111"/>
<rect x="250.80" y="6.10" width="5.6" height="5.6" fill="#4a4a4a"/>
<text x="270.50" y="12.90" font-size="11.8" text-anchor="start" >High dosage without RB</text>
<circle cx="253.60" cy="23.70" r="3.4" fill="#e8383c"/>
<text x="270.50" y="27.70" font-size="11.8" text-anchor="start" >low dosage without RB</text>
<polygon points="253.60,34.76 257.50,41.56 249.70,41.56" fill="#1f6fe0"/>
<text x="270.50" y="42.50" font-size="11.8" text-anchor="start" >high dosage with RB</text>
<polygon points="253.60,57.04 257.50,50.24 249.70,50.24" fill="#2e9e5a"/>
<text x="270.50" y="57.30" font-size="11.8" text-anchor="start" >low dosage with RB</text>
<text x="22.00" y="11.70" font-size="16.6" text-anchor="end" >(A)</text>
<text x="0" y="0" font-size="13.4" text-anchor="middle" transform="translate(34.00,138.00) rotate(-90)">Residue (mg kg<tspan font-size="8.04" dy="-5.2">-1</tspan><tspan dy="5.2">)</tspan></text>
<text x="208.00" y="300.20" font-size="13.1" text-anchor="middle" >Time (d)</text>
<line x1="483.83" y1="9.52" x2="483.83" y2="264.55" stroke="#1e1e1e" stroke-width="1.3"/>
<line x1="483.18" y1="263.90" x2="793.55" y2="263.90" stroke="#1e1e1e" stroke-width="1.3"/>
<line x1="478.83" y1="235.60" x2="483.83" y2="235.60" stroke="#1e1e1e" stroke-width="1.3"/>
<text x="475.43" y="239.30" font-size="10.3" text-anchor="end" >0.00</text>
<line x1="478.83" y1="179.08" x2="483.83" y2="179.08" stroke="#1e1e1e" stroke-width="1.3"/>
<text x="475.43" y="182.78" font-size="10.3" text-anchor="end" >0.02</text>
<line x1="478.83" y1="122.56" x2="483.83" y2="122.56" stroke="#1e1e1e" stroke-width="1.3"/>
<text x="475.43" y="126.26" font-size="10.3" text-anchor="end" >0.04</text>
<line x1="478.83" y1="66.04" x2="483.83" y2="66.04" stroke="#1e1e1e" stroke-width="1.3"/>
<text x="475.43" y="69.74" font-size="10.3" text-anchor="end" >0.06</text>
<line x1="478.83" y1="9.52" x2="483.83" y2="9.52" stroke="#1e1e1e" stroke-width="1.3"/>
<text x="475.43" y="13.22" font-size="10.3" text-anchor="end" >0.08</text>
<line x1="480.83" y1="207.34" x2="483.83" y2="207.34" stroke="#1e1e1e" stroke-width="1.3"/>
<line x1="480.83" y1="150.82" x2="483.83" y2="150.82" stroke="#1e1e1e" stroke-width="1.3"/>
<line x1="480.83" y1="94.30" x2="483.83" y2="94.30" stroke="#1e1e1e" stroke-width="1.3"/>
<line x1="480.83" y1="37.78" x2="483.83" y2="37.78" stroke="#1e1e1e" stroke-width="1.3"/>
<line x1="507.60" y1="263.90" x2="507.60" y2="268.90" stroke="#1e1e1e" stroke-width="1.3"/>
<text x="507.60" y="280.90" font-size="10.8" text-anchor="middle" >0</text>
<line x1="555.15" y1="263.90" x2="555.15" y2="268.90" stroke="#1e1e1e" stroke-width="1.3"/>
<text x="555.15" y="280.90" font-size="10.8" text-anchor="middle" >5</text>
<line x1="602.70" y1="263.90" x2="602.70" y2="268.90" stroke="#1e1e1e" stroke-width="1.3"/>
<text x="602.70" y="280.90" font-size="10.8" text-anchor="middle" >10</text>
<line x1="650.25" y1="263.90" x2="650.25" y2="268.90" stroke="#1e1e1e" stroke-width="1.3"/>
<text x="650.25" y="280.90" font-size="10.8" text-anchor="middle" >15</text>
<line x1="697.80" y1="263.90" x2="697.80" y2="268.90" stroke="#1e1e1e" stroke-width="1.3"/>
<text x="697.80" y="280.90" font-size="10.8" text-anchor="middle" >20</text>
<line x1="745.35" y1="263.90" x2="745.35" y2="268.90" stroke="#1e1e1e" stroke-width="1.3"/>
<text x="745.35" y="280.90" font-size="10.8" text-anchor="middle" >25</text>
<line x1="792.90" y1="263.90" x2="792.90" y2="268.90" stroke="#1e1e1e" stroke-width="1.3"/>
<text x="792.90" y="280.90" font-size="10.8" text-anchor="middle" >30</text>
<line x1="483.83" y1="263.90" x2="483.83" y2="266.90" stroke="#1e1e1e" stroke-width="1.3"/>
<line x1="531.38" y1="263.90" x2="531.38" y2="266.90" stroke="#1e1e1e" stroke-width="1.3"/>
<line x1="578.93" y1="263.90" x2="578.93" y2="266.90" stroke="#1e1e1e" stroke-width="1.3"/>
<line x1="626.48" y1="263.90" x2="626.48" y2="266.90" stroke="#1e1e1e" stroke-width="1.3"/>
<line x1="674.02" y1="263.90" x2="674.02" y2="266.90" stroke="#1e1e1e" stroke-width="1.3"/>
<line x1="721.58" y1="263.90" x2="721.58" y2="266.90" stroke="#1e1e1e" stroke-width="1.3"/>
<line x1="769.12" y1="263.90" x2="769.12" y2="266.90" stroke="#1e1e1e" stroke-width="1.3"/>
<line x1="507.60" y1="62.00" x2="507.60" y2="75.90" stroke="#6a6a6a" stroke-width="1.1"/>
<line x1="505.00" y1="62.00" x2="510.20" y2="62.00" stroke="#6a6a6a" stroke-width="1.1"/>
<line x1="505.00" y1="75.90" x2="510.20" y2="75.90" stroke="#6a6a6a" stroke-width="1.1"/>
<rect x="504.80" y="66.80" width="5.6" height="5.6" fill="#4a4a4a"/>
<line x1="517.11" y1="76.00" x2="517.11" y2="94.20" stroke="#6a6a6a" stroke-width="1.1"/>
<line x1="514.51" y1="76.00" x2="519.71" y2="76.00" stroke="#6a6a6a" stroke-width="1.1"/>
<line x1="514.51" y1="94.20" x2="519.71" y2="94.20" stroke="#6a6a6a" stroke-width="1.1"/>
<rect x="514.31" y="82.60" width="5.6" height="5.6" fill="#4a4a4a"/>
<rect x="533.33" y="134.70" width="5.6" height="5.6" fill="#4a4a4a"/>
<line x1="555.15" y1="137.50" x2="555.15" y2="146.00" stroke="#6a6a6a" stroke-width="1.1"/>
<line x1="552.55" y1="137.50" x2="557.75" y2="137.50" stroke="#6a6a6a" stroke-width="1.1"/>
<line x1="552.55" y1="146.00" x2="557.75" y2="146.00" stroke="#6a6a6a" stroke-width="1.1"/>
<rect x="552.35" y="138.70" width="5.6" height="5.6" fill="#4a4a4a"/>
<rect x="571.37" y="169.70" width="5.6" height="5.6" fill="#4a4a4a"/>
<rect x="637.94" y="188.10" width="5.6" height="5.6" fill="#4a4a4a"/>
<rect x="704.51" y="206.70" width="5.6" height="5.6" fill="#4a4a4a"/>
<rect x="771.08" y="212.70" width="5.6" height="5.6" fill="#4a4a4a"/>
<line x1="507.60" y1="97.60" x2="507.60" y2="110.00" stroke="#ee7070" stroke-width="1.1"/>
<line x1="505.00" y1="97.60" x2="510.20" y2="97.60" stroke="#ee7070" stroke-width="1.1"/>
<line x1="505.00" y1="110.00" x2="510.20" y2="110.00" stroke="#ee7070" stroke-width="1.1"/>
<circle cx="507.60" cy="103.60" r="3.4" fill="#e8383c"/>
<line x1="517.11" y1="124.00" x2="517.11" y2="134.00" stroke="#ee7070" stroke-width="1.1"/>
<line x1="514.51" y1="124.00" x2="519.71" y2="124.00" stroke="#ee7070" stroke-width="1.1"/>
<line x1="514.51" y1="134.00" x2="519.71" y2="134.00" stroke="#ee7070" stroke-width="1.1"/>
<circle cx="517.11" cy="128.70" r="3.4" fill="#e8383c"/>
<line x1="536.13" y1="141.00" x2="536.13" y2="148.40" stroke="#ee7070" stroke-width="1.1"/>
<line x1="533.53" y1="141.00" x2="538.73" y2="141.00" stroke="#ee7070" stroke-width="1.1"/>
<line x1="533.53" y1="148.40" x2="538.73" y2="148.40" stroke="#ee7070" stroke-width="1.1"/>
<circle cx="536.13" cy="144.40" r="3.4" fill="#e8383c"/>
<line x1="555.15" y1="150.00" x2="555.15" y2="160.00" stroke="#ee7070" stroke-width="1.1"/>
<line x1="552.55" y1="150.00" x2="557.75" y2="150.00" stroke="#ee7070" stroke-width="1.1"/>
<line x1="552.55" y1="160.00" x2="557.75" y2="160.00" stroke="#ee7070" stroke-width="1.1"/>
<circle cx="555.15" cy="155.00" r="3.4" fill="#e8383c"/>
<circle cx="574.17" cy="192.50" r="3.4" fill="#e8383c"/>
<circle cx="640.74" cy="197.40" r="3.4" fill="#e8383c"/>
<circle cx="707.31" cy="211.20" r="3.4" fill="#e8383c"/>
<circle cx="773.88" cy="217.50" r="3.4" fill="#e8383c"/>
<line x1="507.60" y1="48.90" x2="507.60" y2="56.00" stroke="#5a9aee" stroke-width="1.1"/>
<line x1="505.00" y1="48.90" x2="510.20" y2="48.90" stroke="#5a9aee" stroke-width="1.1"/>
<line x1="505.00" y1="56.00" x2="510.20" y2="56.00" stroke="#5a9aee" stroke-width="1.1"/>
<polygon points="507.60,49.06 511.50,55.86 503.70,55.86" fill="#1f6fe0"/>
<line x1="517.11" y1="48.90" x2="517.11" y2="69.20" stroke="#5a9aee" stroke-width="1.1"/>
<line x1="514.51" y1="48.90" x2="519.71" y2="48.90" stroke="#5a9aee" stroke-width="1.1"/>
<line x1="514.51" y1="69.20" x2="519.71" y2="69.20" stroke="#5a9aee" stroke-width="1.1"/>
<polygon points="517.11,54.96 521.01,61.76 513.21,61.76" fill="#1f6fe0"/>
<line x1="536.13" y1="100.80" x2="536.13" y2="115.50" stroke="#5a9aee" stroke-width="1.1"/>
<line x1="533.53" y1="100.80" x2="538.73" y2="100.80" stroke="#5a9aee" stroke-width="1.1"/>
<line x1="533.53" y1="115.50" x2="538.73" y2="115.50" stroke="#5a9aee" stroke-width="1.1"/>
<polygon points="536.13,103.76 540.03,110.56 532.23,110.56" fill="#1f6fe0"/>
<polygon points="555.15,151.26 559.05,158.06 551.25,158.06" fill="#1f6fe0"/>
<polygon points="574.17,172.76 578.07,179.56 570.27,179.56" fill="#1f6fe0"/>
<line x1="640.74" y1="179.00" x2="640.74" y2="224.00" stroke="#5a9aee" stroke-width="1.1"/>
<line x1="638.14" y1="179.00" x2="643.34" y2="179.00" stroke="#5a9aee" stroke-width="1.1"/>
<line x1="638.14" y1="224.00" x2="643.34" y2="224.00" stroke="#5a9aee" stroke-width="1.1"/>
<polygon points="640.74,196.26 644.64,203.06 636.84,203.06" fill="#1f6fe0"/>
<polygon points="707.31,213.26 711.21,220.06 703.41,220.06" fill="#1f6fe0"/>
<polygon points="773.88,216.76 777.78,223.56 769.98,223.56" fill="#1f6fe0"/>
<line x1="507.60" y1="60.70" x2="507.60" y2="66.00" stroke="#5fb880" stroke-width="1.1"/>
<line x1="505.00" y1="60.70" x2="510.20" y2="60.70" stroke="#5fb880" stroke-width="1.1"/>
<line x1="505.00" y1="66.00" x2="510.20" y2="66.00" stroke="#5fb880" stroke-width="1.1"/>
<polygon points="507.60,67.44 511.50,60.64 503.70,60.64" fill="#2e9e5a"/>
<line x1="517.11" y1="75.90" x2="517.11" y2="90.30" stroke="#5fb880" stroke-width="1.1"/>
<line x1="514.51" y1="75.90" x2="519.71" y2="75.90" stroke="#5fb880" stroke-width="1.1"/>
<line x1="514.51" y1="90.30" x2="519.71" y2="90.30" stroke="#5fb880" stroke-width="1.1"/>
<polygon points="517.11,86.14 521.01,79.34 513.21,79.34" fill="#2e9e5a"/>
<line x1="536.13" y1="130.30" x2="536.13" y2="142.00" stroke="#5fb880" stroke-width="1.1"/>
<line x1="533.53" y1="130.30" x2="538.73" y2="130.30" stroke="#5fb880" stroke-width="1.1"/>
<line x1="533.53" y1="142.00" x2="538.73" y2="142.00" stroke="#5fb880" stroke-width="1.1"/>
<polygon points="536.13,140.54 540.03,133.74 532.23,133.74" fill="#2e9e5a"/>
<line x1="555.15" y1="145.40" x2="555.15" y2="153.00" stroke="#5fb880" stroke-width="1.1"/>
<line x1="552.55" y1="145.40" x2="557.75" y2="145.40" stroke="#5fb880" stroke-width="1.1"/>
<line x1="552.55" y1="153.00" x2="557.75" y2="153.00" stroke="#5fb880" stroke-width="1.1"/>
<polygon points="555.15,152.94 559.05,146.14 551.25,146.14" fill="#2e9e5a"/>
<polygon points="574.17,185.74 578.07,178.94 570.27,178.94" fill="#2e9e5a"/>
<polygon points="640.74,216.24 644.64,209.44 636.84,209.44" fill="#2e9e5a"/>
<polygon points="707.31,221.24 711.21,214.44 703.41,214.44" fill="#2e9e5a"/>
<polygon points="773.88,227.54 777.78,220.74 769.98,220.74" fill="#2e9e5a"/>
<polyline points="507.60,94.02 508.55,95.19 509.50,96.35 510.45,97.50 511.40,98.64 512.36,99.77 513.31,100.90 514.26,102.01 515.21,103.11 516.16,104.21 517.11,105.29 518.06,106.37 519.01,107.44 519.96,108.50 520.91,109.55 521.87,110.59 522.82,111.62 523.77,112.65 524.72,113.67 525.67,114.67 526.62,115.67 527.57,116.66 528.52,117.65 529.47,118.62 530.42,119.59 531.38,120.55 532.33,121.50 533.28,122.44 534.23,123.38 535.18,124.31 536.13,125.23 537.08,126.14 538.03,127.04 538.98,127.94 539.93,128.83 540.88,129.71 541.84,130.59 542.79,131.46 543.74,132.32 544.69,133.17 545.64,134.02 546.59,134.86 547.54,135.69 548.49,136.51 549.44,137.33 550.39,138.15 551.35,138.95 552.30,139.75 553.25,140.54 554.20,141.33 555.15,142.11 556.10,142.88 557.05,143.65 558.00,144.41 558.95,145.16 559.90,145.91 560.86,146.65 561.81,147.38 562.76,148.11 563.71,148.84 564.66,149.55 565.61,150.27 566.56,150.97 567.51,151.67 568.46,152.36 569.41,153.05 570.37,153.73 571.32,154.41 572.27,155.08 573.22,155.75 574.17,156.41 575.12,157.06 576.07,157.71 577.02,158.35 577.97,158.99 578.93,159.63 579.88,160.25 580.83,160.88 581.78,161.49 582.73,162.11 583.68,162.71 584.63,163.32 585.58,163.91 586.53,164.51 587.48,165.10 588.44,165.68 589.39,166.26 590.34,166.83 591.29,167.40 592.24,167.96 593.19,168.52 594.14,169.07 595.09,169.62 596.04,170.17 596.99,170.71 597.95,171.25 598.90,171.78 599.85,172.31 600.80,172.83 601.75,173.35 602.70,173.86 603.65,174.37 604.60,174.88 605.55,175.38 606.50,175.88 607.46,176.37 608.41,176.86 609.36,177.35 610.31,177.83 611.26,178.31 612.21,178.78 613.16,179.25 614.11,179.72 615.06,180.18 616.01,180.64 616.97,181.09 617.92,181.54 618.87,181.99 619.82,182.43 620.77,182.87 621.72,183.31 622.67,183.74 623.62,184.17 624.57,184.59 625.52,185.01 626.48,185.43 627.43,185.85 628.38,186.26 629.33,186.67 630.28,187.07 631.23,187.47 632.18,187.87 633.13,188.26 634.08,188.65 635.03,189.04 635.99,189.43 636.94,189.81 637.89,190.19 638.84,190.56 639.79,190.94 640.74,191.30 641.69,191.67 642.64,192.03 643.59,192.39 644.54,192.75 645.50,193.11 646.45,193.46 647.40,193.80 648.35,194.15 649.30,194.49 650.25,194.83 651.20,195.17 652.15,195.50 653.10,195.84 654.05,196.16 655.00,196.49 655.96,196.81 656.91,197.13 657.86,197.45 658.81,197.77 659.76,198.08 660.71,198.39 661.66,198.70 662.61,199.00 663.56,199.30 664.51,199.60 665.47,199.90 666.42,200.20 667.37,200.49 668.32,200.78 669.27,201.07 670.22,201.35 671.17,201.64 672.12,201.92 673.07,202.20 674.02,202.47 674.98,202.75 675.93,203.02 676.88,203.29 677.83,203.55 678.78,203.82 679.73,204.08 680.68,204.34 681.63,204.60 682.58,204.86 683.54,205.11 684.49,205.36 685.44,205.61 686.39,205.86 687.34,206.11 688.29,206.35 689.24,206.59 690.19,206.83 691.14,207.07 692.09,207.31 693.05,207.54 694.00,207.77 694.95,208.00 695.90,208.23 696.85,208.46 697.80,208.68 698.75,208.90 699.70,209.12 700.65,209.34 701.60,209.56 702.56,209.77 703.51,209.99 704.46,210.20 705.41,210.41 706.36,210.62 707.31,210.82 708.26,211.03 709.21,211.23 710.16,211.43 711.11,211.63 712.07,211.83 713.02,212.03 713.97,212.22 714.92,212.42 715.87,212.61 716.82,212.80 717.77,212.99 718.72,213.17 719.67,213.36 720.62,213.54 721.58,213.72 722.53,213.90 723.48,214.08 724.43,214.26 725.38,214.44 726.33,214.61 727.28,214.79 728.23,214.96 729.18,215.13 730.13,215.30 731.09,215.47 732.04,215.63 732.99,215.80 733.94,215.96 734.89,216.12 735.84,216.28 736.79,216.44 737.74,216.60 738.69,216.76 739.64,216.92 740.60,217.07 741.55,217.22 742.50,217.38 743.45,217.53 744.40,217.68 745.35,217.82 746.30,217.97 747.25,218.12 748.20,218.26 749.15,218.40 750.11,218.55 751.06,218.69 752.01,218.83 752.96,218.97 753.91,219.10 754.86,219.24 755.81,219.37 756.76,219.51 757.71,219.64 758.66,219.77 759.62,219.90 760.57,220.03 761.52,220.16 762.47,220.29 763.42,220.42 764.37,220.54 765.32,220.67 766.27,220.79 767.22,220.91 768.17,221.03 769.12,221.15 770.08,221.27 771.03,221.39 771.98,221.51 772.93,221.63 773.88,221.74" fill="none" stroke="#1a1a1a" stroke-width="1.25"/>
<polyline points="507.60,130.47 508.55,131.28 509.50,132.08 510.45,132.87 511.40,133.66 512.36,134.44 513.31,135.22 514.26,135.99 515.21,136.75 516.16,137.51 517.11,138.26 518.06,139.01 519.01,139.75 519.96,140.49 520.91,141.22 521.87,141.94 522.82,142.66 523.77,143.37 524.72,144.08 525.67,144.78 526.62,145.48 527.57,146.17 528.52,146.85 529.47,147.54 530.42,148.21 531.38,148.88 532.33,149.55 533.28,150.21 534.23,150.86 535.18,151.51 536.13,152.16 537.08,152.80 538.03,153.43 538.98,154.06 539.93,154.69 540.88,155.31 541.84,155.92 542.79,156.53 543.74,157.14 544.69,157.74 545.64,158.34 546.59,158.93 547.54,159.52 548.49,160.10 549.44,160.68 550.39,161.26 551.35,161.83 552.30,162.39 553.25,162.96 554.20,163.51 555.15,164.07 556.10,164.61 557.05,165.16 558.00,165.70 558.95,166.24 559.90,166.77 560.86,167.30 561.81,167.82 562.76,168.34 563.71,168.86 564.66,169.37 565.61,169.88 566.56,170.38 567.51,170.88 568.46,171.38 569.41,171.87 570.37,172.36 571.32,172.84 572.27,173.32 573.22,173.80 574.17,174.28 575.12,174.75 576.07,175.21 577.02,175.68 577.97,176.14 578.93,176.59 579.88,177.04 580.83,177.49 581.78,177.94 582.73,178.38 583.68,178.82 584.63,179.26 585.58,179.69 586.53,180.12 587.48,180.54 588.44,180.97 589.39,181.38 590.34,181.80 591.29,182.21 592.24,182.62 593.19,183.03 594.14,183.43 595.09,183.83 596.04,184.23 596.99,184.62 597.95,185.01 598.90,185.40 599.85,185.79 600.80,186.17 601.75,186.55 602.70,186.92 603.65,187.30 604.60,187.67 605.55,188.04 606.50,188.40 607.46,188.76 608.41,189.12 609.36,189.48 610.31,189.83 611.26,190.18 612.21,190.53 613.16,190.88 614.11,191.22 615.06,191.56 616.01,191.90 616.97,192.23 617.92,192.57 618.87,192.90 619.82,193.22 620.77,193.55 621.72,193.87 622.67,194.19 623.62,194.51 624.57,194.82 625.52,195.14 626.48,195.45 627.43,195.76 628.38,196.06 629.33,196.36 630.28,196.67 631.23,196.96 632.18,197.26 633.13,197.55 634.08,197.85 635.03,198.14 635.99,198.42 636.94,198.71 637.89,198.99 638.84,199.27 639.79,199.55 640.74,199.83 641.69,200.10 642.64,200.37 643.59,200.64 644.54,200.91 645.50,201.18 646.45,201.44 647.40,201.70 648.35,201.96 649.30,202.22 650.25,202.48 651.20,202.73 652.15,202.99 653.10,203.24 654.05,203.48 655.00,203.73 655.96,203.97 656.91,204.22 657.86,204.46 658.81,204.70 659.76,204.93 660.71,205.17 661.66,205.40 662.61,205.63 663.56,205.86 664.51,206.09 665.47,206.32 666.42,206.54 667.37,206.77 668.32,206.99 669.27,207.21 670.22,207.42 671.17,207.64 672.12,207.85 673.07,208.07 674.02,208.28 674.98,208.49 675.93,208.70 676.88,208.90 677.83,209.11 678.78,209.31 679.73,209.51 680.68,209.71 681.63,209.91 682.58,210.11 683.54,210.30 684.49,210.50 685.44,210.69 686.39,210.88 687.34,211.07 688.29,211.26 689.24,211.45 690.19,211.63 691.14,211.81 692.09,212.00 693.05,212.18 694.00,212.36 694.95,212.54 695.90,212.71 696.85,212.89 697.80,213.06 698.75,213.24 699.70,213.41 700.65,213.58 701.60,213.75 702.56,213.91 703.51,214.08 704.46,214.25 705.41,214.41 706.36,214.57 707.31,214.73 708.26,214.89 709.21,215.05 710.16,215.21 711.11,215.37 712.07,215.52 713.02,215.68 713.97,215.83 714.92,215.98 715.87,216.13 716.82,216.28 717.77,216.43 718.72,216.57 719.67,216.72 720.62,216.87 721.58,217.01 722.53,217.15 723.48,217.29 724.43,217.43 725.38,217.57 726.33,217.71 727.28,217.85 728.23,217.98 729.18,218.12 730.13,218.25 731.09,218.39 732.04,218.52 732.99,218.65 733.94,218.78 734.89,218.91 735.84,219.04 736.79,219.16 737.74,219.29 738.69,219.42 739.64,219.54 740.60,219.66 741.55,219.78 742.50,219.91 743.45,220.03 744.40,220.15 745.35,220.26 746.30,220.38 747.25,220.50 748.20,220.61 749.15,220.73 750.11,220.84 751.06,220.96 752.01,221.07 752.96,221.18 753.91,221.29 754.86,221.40 755.81,221.51 756.76,221.62 757.71,221.73 758.66,221.83 759.62,221.94 760.57,222.04 761.52,222.15 762.47,222.25 763.42,222.35 764.37,222.45 765.32,222.55 766.27,222.65 767.22,222.75 768.17,222.85 769.12,222.95 770.08,223.05 771.03,223.14 771.98,223.24 772.93,223.33 773.88,223.43" fill="none" stroke="#ee1c1c" stroke-width="1.25"/>
<polyline points="507.60,62.65 508.55,64.52 509.50,66.38 510.45,68.21 511.40,70.03 512.36,71.82 513.31,73.60 514.26,75.35 515.21,77.09 516.16,78.81 517.11,80.51 518.06,82.19 519.01,83.85 519.96,85.50 520.91,87.13 521.87,88.74 522.82,90.33 523.77,91.90 524.72,93.46 525.67,95.00 526.62,96.53 527.57,98.03 528.52,99.52 529.47,101.00 530.42,102.46 531.38,103.90 532.33,105.33 533.28,106.74 534.23,108.14 535.18,109.52 536.13,110.89 537.08,112.24 538.03,113.58 538.98,114.90 539.93,116.21 540.88,117.50 541.84,118.78 542.79,120.05 543.74,121.30 544.69,122.54 545.64,123.77 546.59,124.98 547.54,126.18 548.49,127.36 549.44,128.54 550.39,129.70 551.35,130.85 552.30,131.98 553.25,133.11 554.20,134.22 555.15,135.32 556.10,136.40 557.05,137.48 558.00,138.54 558.95,139.59 559.90,140.63 560.86,141.66 561.81,142.68 562.76,143.69 563.71,144.69 564.66,145.67 565.61,146.65 566.56,147.61 567.51,148.57 568.46,149.51 569.41,150.44 570.37,151.37 571.32,152.28 572.27,153.18 573.22,154.08 574.17,154.96 575.12,155.83 576.07,156.70 577.02,157.55 577.97,158.40 578.93,159.24 579.88,160.06 580.83,160.88 581.78,161.69 582.73,162.49 583.68,163.29 584.63,164.07 585.58,164.85 586.53,165.61 587.48,166.37 588.44,167.12 589.39,167.86 590.34,168.60 591.29,169.33 592.24,170.04 593.19,170.75 594.14,171.46 595.09,172.15 596.04,172.84 596.99,173.52 597.95,174.19 598.90,174.86 599.85,175.52 600.80,176.17 601.75,176.81 602.70,177.45 603.65,178.08 604.60,178.70 605.55,179.32 606.50,179.93 607.46,180.54 608.41,181.13 609.36,181.72 610.31,182.31 611.26,182.88 612.21,183.46 613.16,184.02 614.11,184.58 615.06,185.13 616.01,185.68 616.97,186.22 617.92,186.76 618.87,187.29 619.82,187.81 620.77,188.33 621.72,188.84 622.67,189.35 623.62,189.85 624.57,190.35 625.52,190.84 626.48,191.32 627.43,191.80 628.38,192.28 629.33,192.75 630.28,193.21 631.23,193.67 632.18,194.12 633.13,194.57 634.08,195.02 635.03,195.46 635.99,195.89 636.94,196.32 637.89,196.75 638.84,197.17 639.79,197.59 640.74,198.00 641.69,198.41 642.64,198.81 643.59,199.21 644.54,199.60 645.50,199.99 646.45,200.38 647.40,200.76 648.35,201.14 649.30,201.51 650.25,201.88 651.20,202.25 652.15,202.61 653.10,202.97 654.05,203.32 655.00,203.67 655.96,204.02 656.91,204.36 657.86,204.70 658.81,205.03 659.76,205.36 660.71,205.69 661.66,206.02 662.61,206.34 663.56,206.65 664.51,206.97 665.47,207.28 666.42,207.59 667.37,207.89 668.32,208.19 669.27,208.49 670.22,208.78 671.17,209.07 672.12,209.36 673.07,209.64 674.02,209.93 674.98,210.20 675.93,210.48 676.88,210.75 677.83,211.02 678.78,211.29 679.73,211.55 680.68,211.81 681.63,212.07 682.58,212.32 683.54,212.58 684.49,212.83 685.44,213.07 686.39,213.32 687.34,213.56 688.29,213.80 689.24,214.03 690.19,214.27 691.14,214.50 692.09,214.73 693.05,214.95 694.00,215.18 694.95,215.40 695.90,215.62 696.85,215.84 697.80,216.05 698.75,216.26 699.70,216.47 700.65,216.68 701.60,216.88 702.56,217.09 703.51,217.29 704.46,217.49 705.41,217.68 706.36,217.88 707.31,218.07 708.26,218.26 709.21,218.45 710.16,218.63 711.11,218.82 712.07,219.00 713.02,219.18 713.97,219.36 714.92,219.53 715.87,219.71 716.82,219.88 717.77,220.05 718.72,220.22 719.67,220.38 720.62,220.55 721.58,220.71 722.53,220.87 723.48,221.03 724.43,221.19 725.38,221.35 726.33,221.50 727.28,221.66 728.23,221.81 729.18,221.96 730.13,222.10 731.09,222.25 732.04,222.39 732.99,222.54 733.94,222.68 734.89,222.82 735.84,222.96 736.79,223.10 737.74,223.23 738.69,223.36 739.64,223.50 740.60,223.63 741.55,223.76 742.50,223.89 743.45,224.01 744.40,224.14 745.35,224.26 746.30,224.39 747.25,224.51 748.20,224.63 749.15,224.75 750.11,224.86 751.06,224.98 752.01,225.10 752.96,225.21 753.91,225.32 754.86,225.43 755.81,225.54 756.76,225.65 757.71,225.76 758.66,225.87 759.62,225.97 760.57,226.08 761.52,226.18 762.47,226.28 763.42,226.38 764.37,226.48 765.32,226.58 766.27,226.68 767.22,226.78 768.17,226.87 769.12,226.97 770.08,227.06 771.03,227.15 771.98,227.25 772.93,227.34 773.88,227.43" fill="none" stroke="#1c1cee" stroke-width="1.25"/>
<polyline points="507.60,100.52 508.55,101.91 509.50,103.30 510.45,104.67 511.40,106.02 512.36,107.36 513.31,108.69 514.26,110.00 515.21,111.30 516.16,112.59 517.11,113.86 518.06,115.12 519.01,116.37 519.96,117.60 520.91,118.82 521.87,120.03 522.82,121.22 523.77,122.41 524.72,123.58 525.67,124.74 526.62,125.88 527.57,127.02 528.52,128.14 529.47,129.26 530.42,130.36 531.38,131.44 532.33,132.52 533.28,133.59 534.23,134.64 535.18,135.69 536.13,136.72 537.08,137.74 538.03,138.76 538.98,139.76 539.93,140.75 540.88,141.73 541.84,142.70 542.79,143.66 543.74,144.62 544.69,145.56 545.64,146.49 546.59,147.41 547.54,148.32 548.49,149.23 549.44,150.12 550.39,151.00 551.35,151.88 552.30,152.75 553.25,153.60 554.20,154.45 555.15,155.29 556.10,156.12 557.05,156.94 558.00,157.76 558.95,158.56 559.90,159.36 560.86,160.15 561.81,160.93 562.76,161.70 563.71,162.47 564.66,163.22 565.61,163.97 566.56,164.71 567.51,165.45 568.46,166.17 569.41,166.89 570.37,167.60 571.32,168.30 572.27,169.00 573.22,169.69 574.17,170.37 575.12,171.05 576.07,171.71 577.02,172.38 577.97,173.03 578.93,173.68 579.88,174.32 580.83,174.95 581.78,175.58 582.73,176.20 583.68,176.81 584.63,177.42 585.58,178.03 586.53,178.62 587.48,179.21 588.44,179.79 589.39,180.37 590.34,180.94 591.29,181.51 592.24,182.07 593.19,182.62 594.14,183.17 595.09,183.71 596.04,184.25 596.99,184.78 597.95,185.31 598.90,185.83 599.85,186.34 600.80,186.85 601.75,187.36 602.70,187.85 603.65,188.35 604.60,188.84 605.55,189.32 606.50,189.80 607.46,190.27 608.41,190.74 609.36,191.21 610.31,191.67 611.26,192.12 612.21,192.57 613.16,193.02 614.11,193.46 615.06,193.89 616.01,194.32 616.97,194.75 617.92,195.17 618.87,195.59 619.82,196.01 620.77,196.42 621.72,196.82 622.67,197.22 623.62,197.62 624.57,198.01 625.52,198.40 626.48,198.79 627.43,199.17 628.38,199.54 629.33,199.92 630.28,200.29 631.23,200.65 632.18,201.01 633.13,201.37 634.08,201.72 635.03,202.08 635.99,202.42 636.94,202.77 637.89,203.10 638.84,203.44 639.79,203.77 640.74,204.10 641.69,204.43 642.64,204.75 643.59,205.07 644.54,205.39 645.50,205.70 646.45,206.01 647.40,206.31 648.35,206.62 649.30,206.92 650.25,207.21 651.20,207.51 652.15,207.80 653.10,208.09 654.05,208.37 655.00,208.65 655.96,208.93 656.91,209.21 657.86,209.48 658.81,209.75 659.76,210.02 660.71,210.28 661.66,210.54 662.61,210.80 663.56,211.06 664.51,211.31 665.47,211.57 666.42,211.81 667.37,212.06 668.32,212.30 669.27,212.54 670.22,212.78 671.17,213.02 672.12,213.25 673.07,213.48 674.02,213.71 674.98,213.94 675.93,214.16 676.88,214.39 677.83,214.60 678.78,214.82 679.73,215.04 680.68,215.25 681.63,215.46 682.58,215.67 683.54,215.87 684.49,216.08 685.44,216.28 686.39,216.48 687.34,216.68 688.29,216.87 689.24,217.07 690.19,217.26 691.14,217.45 692.09,217.64 693.05,217.82 694.00,218.01 694.95,218.19 695.90,218.37 696.85,218.55 697.80,218.72 698.75,218.90 699.70,219.07 700.65,219.24 701.60,219.41 702.56,219.58 703.51,219.74 704.46,219.91 705.41,220.07 706.36,220.23 707.31,220.39 708.26,220.55 709.21,220.70 710.16,220.86 711.11,221.01 712.07,221.16 713.02,221.31 713.97,221.46 714.92,221.61 715.87,221.75 716.82,221.89 717.77,222.04 718.72,222.18 719.67,222.31 720.62,222.45 721.58,222.59 722.53,222.72 723.48,222.86 724.43,222.99 725.38,223.12 726.33,223.25 727.28,223.37 728.23,223.50 729.18,223.63 730.13,223.75 731.09,223.87 732.04,223.99 732.99,224.11 733.94,224.23 734.89,224.35 735.84,224.47 736.79,224.58 737.74,224.70 738.69,224.81 739.64,224.92 740.60,225.03 741.55,225.14 742.50,225.25 743.45,225.36 744.40,225.46 745.35,225.57 746.30,225.67 747.25,225.77 748.20,225.88 749.15,225.98 750.11,226.08 751.06,226.17 752.01,226.27 752.96,226.37 753.91,226.46 754.86,226.56 755.81,226.65 756.76,226.74 757.71,226.84 758.66,226.93 759.62,227.02 760.57,227.10 761.52,227.19 762.47,227.28 763.42,227.37 764.37,227.45 765.32,227.54 766.27,227.62 767.22,227.70 768.17,227.78 769.12,227.86 770.08,227.94 771.03,228.02 771.98,228.10 772.93,228.18 773.88,228.26" fill="none" stroke="#1e9e2a" stroke-width="1.25"/>
<text x="534.90" y="67.90" font-size="11.75">y = 0.0501e<tspan font-size="7.76" dx="0.9" dy="-4.8">-0.083x</tspan></text>
<text x="534.90" y="83.90" font-size="11.75">R<tspan font-size="7.76" dy="-5">2</tspan><tspan dy="5"> = 0.9393</tspan></text>
<text x="576.90" y="111.10" font-size="11.75">y = 0.0612e<tspan font-size="7.76" dx="0.9" dy="-4.8">-0.109x</tspan></text>
<text x="576.90" y="127.10" font-size="11.75">R<tspan font-size="7.76" dy="-5">2</tspan><tspan dy="5"> = 0.9620</tspan></text>
<text x="499.10" y="214.70" font-size="11.75">y = 0.0372e<tspan font-size="7.76" dx="0.9" dy="-4.8">-0.077x</tspan></text>
<text x="499.10" y="230.70" font-size="11.75">R<tspan font-size="7.76" dy="-5">2</tspan><tspan dy="5"> = 0.8797</tspan></text>
<text x="622.70" y="239.50" font-size="11.75">y = 0.0478e<tspan font-size="7.76" dx="0.9" dy="-4.8">-0.104x</tspan></text>
<text x="622.70" y="255.50" font-size="11.75">R<tspan font-size="7.76" dy="-5">2</tspan><tspan dy="5"> = 0.9133</tspan></text>
<line x1="537.00" y1="89.00" x2="518.70" y2="105.50" stroke="#111" stroke-width="1.1"/>
<polygon points="518.70,105.50 523.10,98.43 526.18,101.85" fill="#111"/>
<line x1="570.90" y1="122.80" x2="546.60" y2="125.20" stroke="#111" stroke-width="1.1"/>
<polygon points="546.60,125.20 554.34,122.12 554.79,126.70" fill="#111"/>
<line x1="505.30" y1="202.80" x2="540.30" y2="156.00" stroke="#111" stroke-width="1.1"/>
<polygon points="540.30,156.00 537.35,163.78 533.67,161.03" fill="#111"/>
<line x1="650.30" y1="228.20" x2="661.00" y2="210.40" stroke="#111" stroke-width="1.1"/>
<polygon points="661.00,210.40 658.85,218.44 654.91,216.07" fill="#111"/>
<rect x="660.40" y="5.10" width="5.6" height="5.6" fill="#4a4a4a"/>
<text x="679.60" y="11.90" font-size="11.7" text-anchor="start" >High dosage without RB</text>
<circle cx="663.20" cy="22.80" r="3.4" fill="#e8383c"/>
<text x="679.60" y="26.80" font-size="11.7" text-anchor="start" >low dosage without RB</text>
<polygon points="663.20,33.96 667.10,40.76 659.30,40.76" fill="#1f6fe0"/>
<text x="679.60" y="41.70" font-size="11.7" text-anchor="start" >high dosage with RB</text>
<polygon points="663.20,56.34 667.10,49.54 659.30,49.54" fill="#2e9e5a"/>
<text x="679.60" y="56.60" font-size="11.7" text-anchor="start" >low dosage with RB</text>
<text x="422.30" y="15.10" font-size="15.9" text-anchor="start" >(B)</text>
<text x="0" y="0" font-size="13.4" text-anchor="middle" transform="translate(451.30,137.00) rotate(-90)">Residue (mg kg<tspan font-size="8.04" dy="-5.2">-1</tspan><tspan dy="5.2">)</tspan></text>
<text x="638.00" y="300.20" font-size="13.1" text-anchor="middle" >Time (d)</text>
</svg>
</body></html>
